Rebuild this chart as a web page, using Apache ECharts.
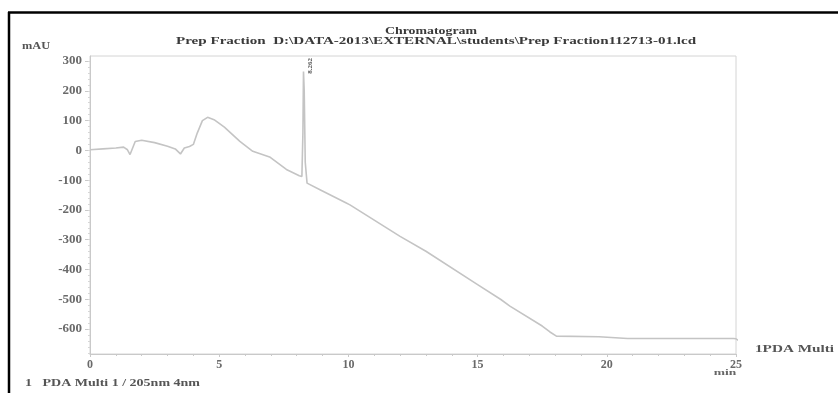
<!DOCTYPE html>
<html>
<head>
<meta charset="utf-8">
<script src="https://cdn.jsdelivr.net/npm/echarts@6/dist/echarts.min.js"></script>
<style>
  html, body { margin: 0; padding: 0; background: #fff; }
  #chart { width: 838px; height: 393px; }
</style>
</head>
<body>
<div id="chart"></div>
<script>
// Retention time (min) and detector response (mAU) of the PDA trace
const timeMin = [0, 0.5, 1.0, 1.3, 1.45, 1.55, 1.75, 2.0, 2.5, 3.0, 3.3, 3.5, 3.65, 3.85, 4.0, 4.15, 4.35, 4.55, 4.8, 5.2,
  5.8, 6.3, 6.95, 7.6, 8.1, 8.2, 8.24, 8.262, 8.29, 8.33, 8.4, 8.9, 9.9, 10.06, 12.0, 13.0, 15.0, 15.9, 16.25,
  17.5, 17.8, 18.05, 19.7, 20.8, 24.9, 25.0, 25.4];
const responseMAU = [2, 5, 8, 11, 2, -14, 30, 34, 26, 14, 5, -12, 8, 13, 20, 58, 100, 111, 103, 78,
  30, -3, -22, -64, -85, -88, 60, 265, 200, -40, -110, -132, -176, -183, -289, -339, -451, -501, -523,
  -590, -610, -624, -626, -632, -632, -633, -655];

// Peak annotation
const peakTime = 8.262;
const peakHeight = 265;

// Axis ticks
const yMajorTicks = [300, 200, 100, 0, -100, -200, -300, -400, -500, -600];
const yMinorTicks = [];
for (let v = 300; v >= -680; v -= 20) yMinorTicks.push(v);

const serif = 'Liberation Serif';
const labelGray = '#6a6a6a';
const axisGray = '#c9c9c9';
const wide = 1.42; // horizontal stretch of the printed report text

const chart = echarts.init(document.getElementById('chart'), null, { renderer: 'canvas' });

function reportText(x, y, text, size, align, fill, sx) {
  return {
    type: 'text', x: x, y: y, scaleX: sx || wide,
    style: {
      text: text, fill: fill || '#444',
      font: 'bold ' + size + 'px "Liberation Serif"',
      textAlign: align, textVerticalAlign: 'middle'
    }
  };
}

chart.setOption({
  animation: false,
  backgroundColor: '#ffffff',
  grid: {
    left: 90, top: 56, width: 646, height: 298,
    show: true, borderColor: '#d4d4d4', borderWidth: 1, backgroundColor: 'transparent'
  },
  xAxis: {
    type: 'value', min: 0, max: 25, interval: 5,
    axisLine: { show: true, onZero: false, lineStyle: { color: axisGray, width: 1 } },
    axisTick: { show: true, length: 3, lineStyle: { color: axisGray } },
    minorTick: { show: true, splitNumber: 5, length: 2, lineStyle: { color: axisGray } },
    axisLabel: { color: labelGray, fontFamily: serif, fontSize: 12, fontWeight: 'bold', margin: 5 },
    splitLine: { show: false }
  },
  yAxis: [{
    type: 'value', min: -684, max: 317,
    axisLine: { show: true, onZero: false, lineStyle: { color: axisGray, width: 1 } },
    axisTick: { show: true, customValues: yMajorTicks, length: 5, lineStyle: { color: axisGray } },
    axisLabel: { customValues: yMajorTicks, color: labelGray, fontFamily: serif, fontSize: 13, fontWeight: 'bold', margin: 8 },
    splitLine: { show: false }
  }, {
    type: 'value', min: -684, max: 317, position: 'left',
    axisLine: { show: false },
    axisTick: { show: true, customValues: yMinorTicks, length: 2, lineStyle: { color: '#d6d6d6' } },
    axisLabel: { show: false },
    splitLine: { show: false }
  }],
  series: [{
    type: 'line',
    yAxisIndex: 0,
    data: timeMin.map((t, i) => [t, responseMAU[i]]),
    showSymbol: false,
    symbol: 'none',
    clip: false,
    lineStyle: { color: '#c4c4c4', width: 1.6 },
    markPoint: {
      symbol: 'rect', symbolSize: 0,
      label: {
        show: true, rotate: 90, formatter: () => peakTime.toFixed(3),
        color: '#555', fontFamily: serif, fontSize: 7, fontWeight: 'bold',
        position: 'inside', offset: [5.7, 7]
      },
      data: [{ coord: [peakTime, peakHeight], value: peakTime }]
    }
  }],
  graphic: [
    // outer frame
    { type: 'line', shape: { x1: 8, y1: 12.5, x2: 838, y2: 12.5 }, style: { stroke: '#000', lineWidth: 2.5 } },
    { type: 'line', shape: { x1: 9, y1: 12, x2: 9, y2: 393 }, style: { stroke: '#000', lineWidth: 2.5 } },
    // titles
    reportText(431, 31.5, 'Chromatogram', 10.5, 'center', '#3a3a3a', 1.32),
    reportText(436, 41, 'Prep Fraction  D:\\DATA-2013\\EXTERNAL\\students\\Prep Fraction112713-01.lcd', 11, 'center', '#3a3a3a', 1.37),
    // unit labels
    reportText(22, 47, 'mAU', 9.5, 'left', '#555', 1.3),
    reportText(725, 373, 'min', 9, 'center', '#666', 1.5),
    // channel labels
    reportText(755, 349, '1PDA Multi 1', 10.5, 'left', '#555', 1.45),
    reportText(25, 383, '1   PDA Multi 1 / 205nm 4nm', 10, 'left', '#555', 1.4)
  ]
});
</script>
</body>
</html>
